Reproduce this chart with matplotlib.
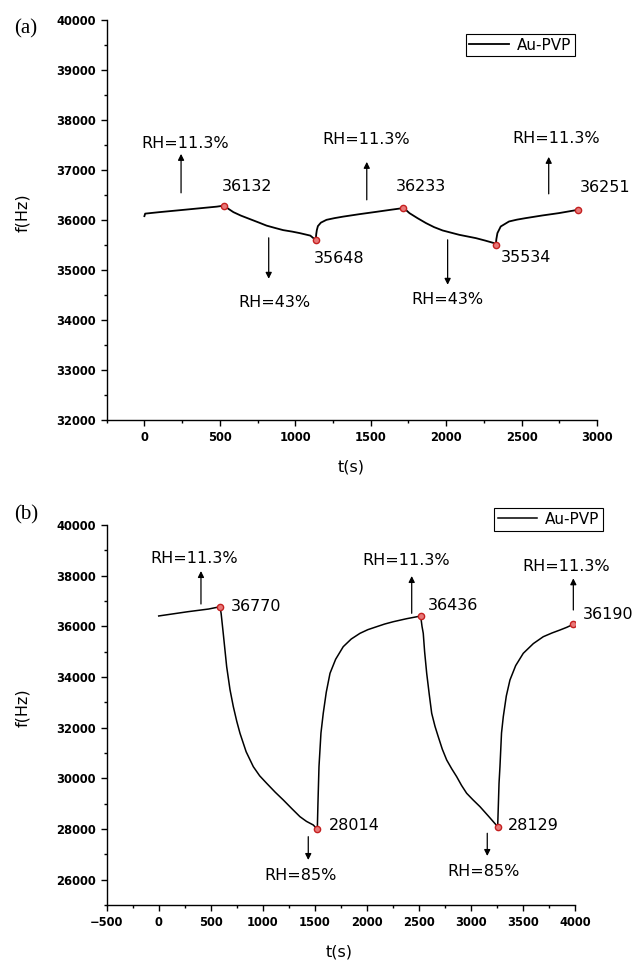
import matplotlib
matplotlib.use("Agg")
import matplotlib.pyplot as plt
from matplotlib.ticker import MultipleLocator

# panel (a): RH 11.3% <-> 43%
t_a = [0, 5, 100, 260, 480, 526, 560, 590, 640, 700, 760, 810, 870, 920, 980, 1030, 1100, 1136,
       1139, 1143, 1150, 1170, 1207, 1260, 1317, 1427, 1537, 1640, 1713,
       1735, 1757, 1810, 1867, 1920, 1977, 2087, 2197, 2260, 2318, 2329,
       2333, 2340, 2362, 2417, 2470, 2527, 2637, 2747, 2873]
f_a = [36080, 36130, 36160, 36206, 36270, 36290, 36220, 36160, 36090, 36020, 35950, 35890, 35840,
       35800, 35770, 35740, 35690, 35600,
       35720, 35800, 35880, 35950, 36006, 36040, 36070, 36120, 36166, 36210, 36240,
       36200, 36140, 36040, 35940, 35860, 35793, 35706, 35640, 35590, 35540, 35493,
       35620, 35740, 35873, 35973, 36010, 36040, 36093, 36140, 36206]
mark_t_a = [526, 1136, 1713, 2329, 2873]
mark_f_a = [36290, 35600, 36240, 35493, 36206]

# panel (b): RH 11.3% <-> 85%
t_b = [0, 150, 280, 480, 589,
       600, 620, 653, 685, 717, 750, 781, 840, 909, 970, 1037, 1120, 1197, 1280, 1357, 1420,
       1485, 1524,
       1530, 1540, 1559, 1581, 1610, 1646, 1700, 1773, 1850, 1934, 2010, 2094, 2170, 2254,
       2380, 2517,
       2530, 2542, 2555, 2575, 2600, 2623, 2655, 2686, 2725, 2767, 2815, 2863, 2910, 2959,
       3020, 3087, 3170, 3257,
       3264, 3270, 3279, 3294, 3311, 3340, 3375, 3430, 3503, 3600, 3695, 3780, 3856, 3920,
       3984]
f_b = [36410, 36500, 36578, 36684, 36775,
       36500, 35725, 34407, 33500, 32828, 32250, 31778, 31050, 30460, 30100, 29805, 29450,
       29146, 28800, 28487, 28300, 28159, 27989,
       29000, 30460, 31790, 32568, 33400, 34147, 34700, 35197, 35500, 35725, 35870, 35986,
       36090, 36183, 36300, 36408,
       36000, 35725, 35000, 34147, 33300, 32568, 32050, 31644, 31150, 30725, 30380, 30066,
       29720, 29410, 29150, 28882, 28500, 28092,
       29000, 29800, 30460, 31790, 32434, 33250, 33882, 34450, 34936, 35320, 35591, 35740,
       35856, 35960, 36081]
mark_t_b = [589, 1524, 2517, 3257, 3984]
mark_f_b = [36775, 27989, 36408, 28092, 36081]

# annotation text: (label, x, y, ha)
labels_a = [("RH=11.3%", 269, 37526, "center"), ("36132", 680, 36672, "center"),
            ("RH=11.3%", 1469, 37606, "center"), ("36233", 1833, 36672, "center"),
            ("RH=11.3%", 2728, 37626, "center"), ("36251", 2885, 36646, "left"),
            ("RH=43%", 859, 34346, "center"), ("35648", 1290, 35226, "center"),
            ("35534", 2530, 35246, "center"), ("RH=43%", 2012, 34406, "center")]
arrows_a = [(243, 36546, 37326), (1474, 36406, 37166), (2680, 36526, 37266),
            (824, 35646, 34826), (2010, 35606, 34706)]

labels_b = [("RH=11.3%", 344, 38686, "center"), ("36770", 694, 36803, "left"),
            ("RH=11.3%", 2374, 38619, "center"), ("36436", 2590, 36842, "left"),
            ("RH=11.3%", 3912, 38382, "center"), ("36190", 4075, 36475, "left"),
            ("28014", 1639, 28120, "left"), ("RH=85%", 1367, 26158, "center"),
            ("28129", 3359, 28120, "left"), ("RH=85%", 3119, 26316, "center")]
arrows_b = [(406, 36882, 38184), (2431, 36515, 37987), (3984, 36645, 37896),
            (1437, 27697, 26777), (3157, 27831, 26935)]


def style_axes(ax, xlim, ylim, xmaj, ymaj):
    ax.set_xlim(*xlim)
    ax.set_ylim(*ylim)
    ax.spines['top'].set_visible(False)
    ax.spines['right'].set_visible(False)
    for s in ('left', 'bottom'):
        ax.spines[s].set_linewidth(1.0)
    ax.xaxis.set_major_locator(MultipleLocator(xmaj))
    ax.xaxis.set_minor_locator(MultipleLocator(xmaj / 2))
    ax.yaxis.set_major_locator(MultipleLocator(ymaj))
    ax.yaxis.set_minor_locator(MultipleLocator(ymaj / 2))
    ax.tick_params(which='major', direction='out', length=4, width=1.0, pad=4,
                   labelsize=8.3)
    ax.tick_params(which='minor', direction='out', length=2.5, width=1.0)
    for lab in ax.get_xticklabels() + ax.get_yticklabels():
        lab.set_fontweight('bold')


def draw_panel(ax, t, f, mt, mf, labels, arrows, lw):
    ax.plot(t, f, color='black', lw=lw, label='Au-PVP')
    ax.plot(mt, mf, 'o', ms=4.5, mfc='#e87878', mec='#c42020', mew=1.0)
    for txt, x, y, ha in labels:
        ax.text(x, y, txt, fontsize=11.5, ha=ha, va='center', clip_on=False)
    for x, y0, y1 in arrows:
        ax.annotate('', xy=(x, y1), xytext=(x, y0),
                    arrowprops=dict(arrowstyle='-|>', color='black', lw=0.9,
                                    mutation_scale=9, shrinkA=0, shrinkB=0))


fig = plt.figure(figsize=(6.32, 9.6), dpi=100)
ax_a = fig.add_axes([0.1688, 0.5625, 0.7758, 0.4164])
ax_b = fig.add_axes([0.1688, 0.0573, 0.7410, 0.3958])

draw_panel(ax_a, t_a, f_a, mark_t_a, mark_f_a, labels_a, arrows_a, 1.3)
style_axes(ax_a, (-250, 3000), (32000, 40000), 500, 1000)
draw_panel(ax_b, t_b, f_b, mark_t_b, mark_f_b, labels_b, arrows_b, 1.1)
style_axes(ax_b, (-500, 4000), (25000, 40000), 500, 2000)

for ax, anchor, xl, yl in [(ax_a, (0.955, 0.966), (0.498, -0.117), (-0.171, 0.518)),
                           (ax_b, (1.060, 1.045), (0.496, -0.123), (-0.179, 0.518))]:
    leg = ax.legend(loc='upper right', bbox_to_anchor=anchor, borderaxespad=0,
                    fancybox=False, edgecolor='black', framealpha=1,
                    fontsize=11, handlelength=2.6, borderpad=0.25,
                    handletextpad=0.5)
    leg.get_frame().set_linewidth(0.8)
    ax.set_xlabel('t(s)', fontsize=11.5)
    ax.set_ylabel('f(Hz)', fontsize=11.5)
    ax.xaxis.set_label_coords(*xl)
    ax.yaxis.set_label_coords(*yl)
    ax.xaxis.label.set_verticalalignment('center')
    ax.yaxis.label.set_verticalalignment('center')

fig.text(0.040, 0.970, '(a)', fontsize=15, family='Liberation Serif',
         ha='center', va='center')
fig.text(0.041, 0.4635, '(b)', fontsize=15, family='Liberation Serif',
         ha='center', va='center')

fig.savefig('out.png', dpi=100)
